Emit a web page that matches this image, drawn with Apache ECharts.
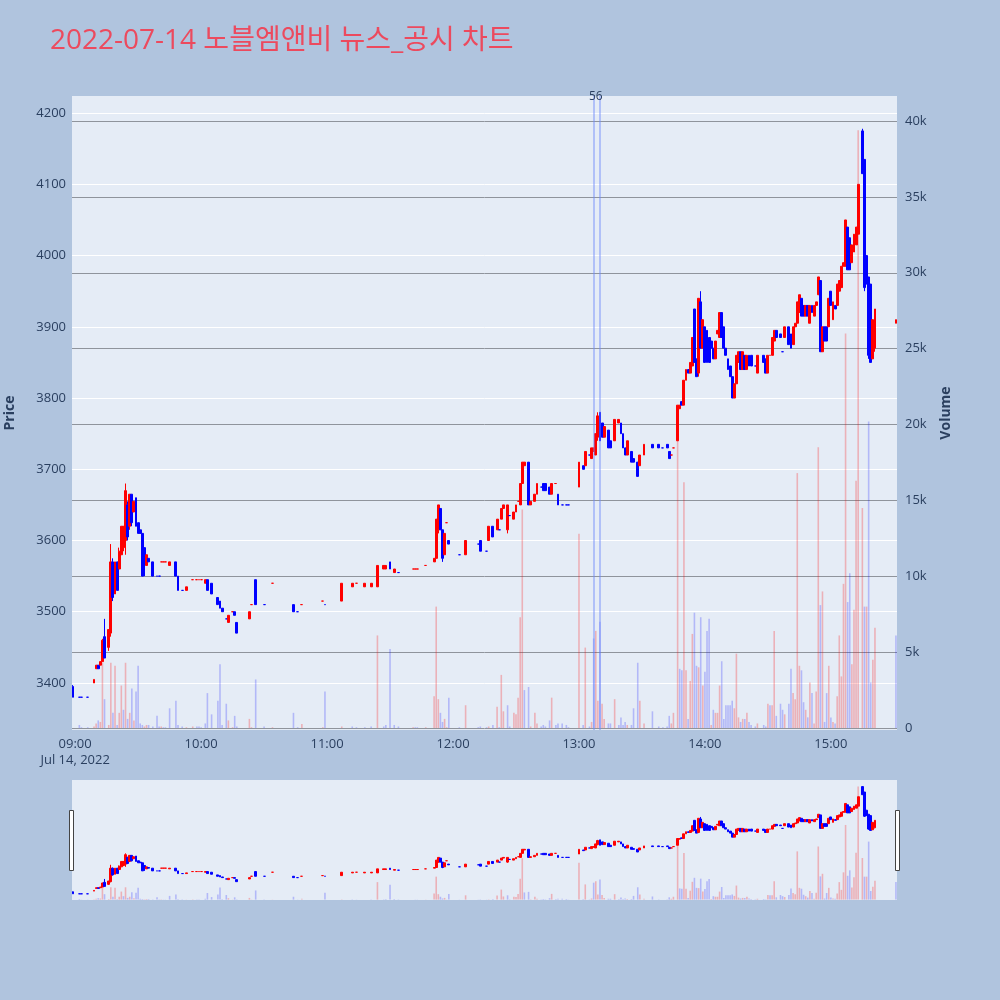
<!DOCTYPE html>
<html><head><meta charset="utf-8">
<script src="https://cdn.jsdelivr.net/npm/echarts@6/dist/echarts.min.js"></script>
<style>html,body{margin:0;padding:0;background:#b0c4de;}#c{width:1000px;height:1000px;}</style>
</head><body><div id="c"></div>
<script>
const times = ["08:59","09:02","09:03","09:06","09:09","09:10","09:11","09:12","09:13","09:14","09:16","09:17","09:18","09:19","09:20","09:21","09:22","09:23","09:24","09:25","09:26","09:27","09:28","09:29","09:30","09:31","09:32","09:33","09:34","09:35","09:37","09:39","09:40","09:41","09:42","09:43","09:45","09:48","09:49","09:51","09:53","09:56","09:58","09:59","10:00","10:02","10:03","10:05","10:08","10:09","10:10","10:12","10:13","10:15","10:16","10:17","10:23","10:24","10:26","10:30","10:34","10:44","10:46","10:48","10:58","10:59","11:07","11:12","11:14","11:18","11:21","11:24","11:27","11:28","11:30","11:32","11:34","11:41","11:42","11:43","11:47","11:51","11:52","11:53","11:54","11:55","11:56","11:57","11:58","12:03","12:06","12:12","12:13","12:16","12:17","12:19","12:21","12:22","12:23","12:24","12:26","12:27","12:29","12:30","12:31","12:32","12:33","12:34","12:36","12:37","12:39","12:40","12:42","12:43","12:44","12:46","12:47","12:49","12:50","12:52","12:54","12:55","13:00","13:02","13:03","13:05","13:06","13:07","13:08","13:09","13:10","13:11","13:12","13:14","13:15","13:17","13:19","13:20","13:21","13:22","13:23","13:25","13:26","13:28","13:29","13:31","13:35","13:38","13:40","13:42","13:43","13:44","13:45","13:47","13:48","13:49","13:50","13:51","13:52","13:53","13:54","13:55","13:56","13:57","13:58","13:59","14:00","14:01","14:02","14:03","14:04","14:05","14:06","14:07","14:08","14:09","14:10","14:11","14:12","14:13","14:14","14:15","14:16","14:17","14:18","14:19","14:20","14:21","14:22","14:24","14:25","14:28","14:29","14:30","14:31","14:32","14:33","14:34","14:36","14:37","14:38","14:40","14:41","14:42","14:43","14:44","14:45","14:46","14:47","14:48","14:49","14:50","14:51","14:52","14:53","14:54","14:55","14:56","14:57","14:58","14:59","15:00","15:01","15:02","15:03","15:04","15:05","15:06","15:07","15:08","15:09","15:10","15:11","15:12","15:13","15:15","15:16","15:17","15:18","15:19","15:20","15:21","15:31"];
const opens = [3395,3380,3380,3380,3400,3420,3425,3425,3430,3465,3450,3470,3570,3525,3570,3560,3580,3590,3600,3650,3620,3665,3640,3660,3625,3615,3610,3590,3565,3575,3570,3550,3550,3570,3570,3570,3565,3570,3550,3530,3530,3545,3545,3545,3545,3540,3545,3540,3520,3515,3505,3490,3485,3500,3500,3485,3490,3510,3545,3510,3540,3510,3500,3510,3515,3510,3515,3535,3540,3535,3535,3535,3560,3560,3570,3555,3555,3560,3560,3560,3565,3570,3575,3615,3645,3615,3580,3625,3600,3580,3580,3595,3600,3585,3600,3620,3615,3615,3630,3645,3615,3635,3630,3640,3655,3650,3680,3705,3710,3650,3655,3665,3675,3680,3680,3675,3665,3680,3665,3650,3650,3650,3675,3705,3705,3720,3715,3725,3720,3745,3780,3765,3745,3755,3740,3740,3765,3765,3750,3730,3720,3725,3715,3710,3705,3720,3735,3735,3730,3735,3725,3720,3730,3740,3785,3795,3790,3825,3840,3835,3845,3925,3855,3835,3935,3870,3900,3895,3885,3880,3870,3855,3890,3885,3920,3900,3870,3855,3845,3830,3800,3820,3850,3865,3840,3860,3840,3860,3860,3845,3835,3860,3855,3835,3860,3860,3880,3895,3890,3865,3885,3900,3890,3875,3900,3905,3920,3940,3930,3915,3930,3905,3930,3915,3930,3945,3965,3865,3900,3900,3900,3950,3910,3930,3930,3950,3955,3985,3985,4040,4025,3990,4005,4015,4030,4175,4135,4000,3970,3960,3855,3870,3905];
const closes = [3380,3380,3380,3380,3405,3425,3420,3430,3460,3435,3475,3570,3520,3570,3530,3585,3620,3620,3670,3605,3665,3625,3655,3620,3610,3610,3550,3570,3580,3570,3550,3550,3550,3570,3570,3570,3570,3550,3530,3530,3535,3545,3545,3545,3545,3545,3530,3525,3510,3505,3500,3490,3495,3500,3495,3470,3500,3510,3510,3510,3540,3500,3500,3510,3515,3510,3540,3540,3540,3540,3540,3565,3565,3565,3560,3560,3555,3560,3560,3560,3565,3575,3630,3650,3615,3575,3610,3625,3595,3580,3600,3595,3585,3585,3620,3605,3630,3615,3645,3650,3650,3635,3640,3650,3655,3680,3710,3710,3650,3655,3665,3680,3675,3670,3670,3665,3680,3680,3650,3650,3650,3650,3710,3700,3725,3720,3730,3730,3750,3775,3740,3745,3760,3730,3730,3770,3770,3750,3730,3720,3740,3710,3710,3690,3720,3735,3730,3730,3730,3730,3715,3720,3730,3790,3790,3790,3825,3840,3835,3850,3885,3850,3830,3940,3870,3910,3850,3850,3850,3870,3855,3880,3895,3920,3885,3870,3860,3840,3830,3800,3820,3860,3865,3840,3865,3840,3860,3845,3845,3845,3860,3850,3835,3860,3860,3885,3895,3885,3885,3865,3900,3875,3870,3900,3905,3935,3945,3915,3915,3930,3915,3930,3920,3930,3935,3970,3865,3900,3880,3880,3940,3930,3935,3925,3960,3965,3985,3990,4050,3980,3980,4015,4030,4040,4100,4115,3955,3960,3860,3850,3910,3925,3910];
const lows = [3380,3380,3380,3380,3400,3420,3420,3425,3430,3435,3445,3465,3515,3525,3530,3560,3580,3585,3580,3600,3615,3620,3640,3620,3610,3610,3550,3550,3565,3570,3550,3550,3550,3570,3570,3570,3565,3550,3530,3530,3530,3545,3545,3545,3545,3540,3530,3525,3510,3505,3500,3490,3485,3500,3495,3470,3490,3510,3510,3510,3540,3500,3500,3510,3515,3510,3515,3535,3540,3535,3535,3535,3560,3560,3560,3555,3555,3560,3560,3560,3565,3570,3575,3610,3615,3570,3580,3625,3595,3580,3580,3595,3585,3585,3600,3605,3615,3615,3630,3645,3610,3635,3630,3640,3655,3650,3680,3705,3650,3650,3655,3665,3675,3670,3670,3665,3665,3680,3650,3650,3650,3650,3675,3700,3705,3720,3715,3725,3720,3740,3740,3745,3745,3730,3730,3740,3765,3750,3730,3720,3720,3710,3710,3690,3705,3720,3730,3730,3730,3730,3715,3720,3730,3740,3785,3790,3790,3825,3835,3835,3845,3850,3830,3830,3870,3870,3850,3850,3850,3870,3855,3855,3890,3885,3885,3870,3860,3840,3830,3800,3800,3820,3850,3840,3840,3840,3840,3845,3845,3845,3835,3850,3835,3835,3860,3860,3880,3885,3885,3865,3885,3875,3870,3875,3900,3905,3920,3915,3915,3915,3915,3905,3920,3915,3930,3945,3865,3865,3880,3880,3900,3930,3910,3925,3930,3950,3955,3985,3985,3980,3980,3990,4005,4015,4030,4115,3950,3960,3855,3850,3855,3865,3905];
const highs = [3397,3380,3380,3380,3405,3425,3425,3430,3462,3490,3475,3595,3575,3570,3570,3590,3620,3620,3680,3655,3665,3665,3655,3660,3625,3615,3610,3590,3580,3575,3570,3550,3550,3570,3570,3570,3570,3570,3550,3530,3535,3545,3545,3545,3545,3545,3545,3540,3520,3515,3505,3490,3495,3500,3500,3485,3500,3510,3545,3510,3540,3510,3500,3510,3515,3510,3540,3540,3540,3540,3540,3565,3565,3565,3570,3560,3555,3560,3560,3560,3565,3575,3630,3650,3645,3615,3610,3625,3600,3580,3600,3595,3600,3585,3620,3620,3630,3615,3645,3650,3650,3635,3640,3650,3655,3680,3710,3710,3710,3655,3665,3680,3675,3680,3680,3675,3680,3680,3665,3650,3650,3650,3710,3705,3725,3720,3730,3730,3750,3780,3780,3765,3760,3755,3740,3770,3770,3765,3750,3730,3740,3725,3715,3710,3720,3735,3735,3735,3730,3735,3725,3720,3730,3790,3790,3795,3825,3840,3840,3850,3885,3925,3855,3940,3950,3910,3900,3895,3885,3880,3870,3880,3895,3920,3920,3900,3870,3855,3845,3830,3820,3860,3865,3865,3865,3860,3860,3860,3860,3845,3860,3860,3855,3860,3860,3885,3895,3895,3890,3865,3900,3900,3890,3900,3905,3935,3945,3940,3930,3930,3930,3930,3930,3930,3935,3970,3965,3900,3900,3900,3940,3950,3935,3930,3960,3965,3985,3990,4050,4040,4025,4015,4030,4040,4100,4178,4135,4000,3970,3960,3910,3925,3910];
const volumes = [0,200,50,50,100,300,500,400,4300,1900,200,4300,1000,4100,200,1000,2800,1200,4300,600,1000,2600,500,2400,4100,300,200,100,200,200,100,800,100,100,50,50,1300,1800,200,100,50,100,100,100,50,300,2300,900,1800,4200,200,1600,500,50,800,100,600,50,3200,100,50,1000,50,260,50,2400,100,100,50,50,100,6100,100,200,5200,200,100,50,50,50,50,2100,8000,1900,1000,400,600,50,2000,50,1500,50,100,50,100,200,1400,50,3500,1100,1500,100,1000,900,2000,7300,14400,2500,2700,100,1000,300,100,200,100,500,2000,200,300,300,200,50,12800,200,5300,100,400,5900,6400,1800,7000,1600,600,300,300,1900,200,700,200,400,200,200,1300,4300,1800,300,1100,100,50,100,800,300,1000,19000,3900,3800,16200,3800,600,3100,6200,7600,4100,4000,7300,2800,3700,6400,7200,200,1200,1000,1000,2800,4400,600,1500,1500,1500,1800,1300,4900,700,400,600,600,1000,400,200,100,300,200,100,1600,1500,1500,6400,800,1600,1200,900,1600,3900,2300,1900,16800,4100,3800,1700,1200,700,3000,2300,300,2400,18500,8100,9000,400,2300,4100,700,400,300,2100,6100,3400,9500,26000,8300,10200,4200,7800,16300,39400,14500,8000,8000,20200,3000,4500,6600,6100];

const UP = '#ff0000', DOWN = '#0000ff';
const VUP = 'rgba(255,0,0,0.25)', VDOWN = 'rgba(0,0,255,0.22)';
const FONT = "'Open Sans', 'Noto Sans CJK KR', sans-serif";
const TXT = '#2a3f5f';

const cats = [];
for (let t = 8*60+59; t <= 15*60+31; t++) {
  cats.push(String(Math.floor(t/60)).padStart(2,'0') + ':' + String(t%60).padStart(2,'0'));
}
const pos = {}; cats.forEach((c,i)=>pos[c]=i);
const candleData = cats.map(()=>'-');
const volData = cats.map(()=>'-');
let prevClose = null, prevDir = -1;
times.forEach((t,i)=>{
  const o = opens[i], c = closes[i];
  let dir;
  if (c > o) dir = 1;
  else if (c < o) dir = -1;
  else if (prevClose !== null && c > prevClose) dir = 1;
  else if (prevClose !== null && c < prevClose) dir = -1;
  else dir = prevDir;
  const col = dir > 0 ? UP : DOWN;
  candleData[pos[t]] = {value:[o, c, lows[i], highs[i]],
    itemStyle:{color:col, color0:col, borderColor:col, borderColor0:col, borderColorDoji:col}};
  const vdir = (prevClose !== null && c > prevClose) ? 1 : -1;
  volData[pos[t]] = {value: volumes[i], itemStyle:{color: vdir > 0 ? VUP : VDOWN}};
  prevClose = c; prevDir = dir;
});

const chart = echarts.init(document.getElementById('c'), null, {renderer:'canvas'});
const volFmt = v => v === 0 ? '0' : (v/1000) + 'k';
chart.setOption({
  animation: false,
  backgroundColor: '#b0c4de',
  title: {text: '2022-07-14 노블엠앤비 뉴스_공시 차트', left: 45, top: 22,
    textStyle: {color: '#ec4a5e', fontSize: 28, fontWeight: 'normal', fontFamily: FONT}},
  grid: [
    {left: 72, top: 96, width: 825, height: 634, show: true, backgroundColor: '#e5ecf6', borderWidth: 0, outerBoundsMode: 'none', containLabel: false},
    {left: 72, top: 780, width: 825, height: 120, show: true, backgroundColor: '#e5ecf6', borderWidth: 0, outerBoundsMode: 'none', containLabel: false}
  ],
  xAxis: [
    {type: 'category', data: cats, gridIndex: 0, boundaryGap: true,
     axisLine: {show: false}, axisTick: {show: false}, splitLine: {show: false},
     axisLabel: {color: TXT, fontSize: 13, fontFamily: FONT, margin: 6, lineHeight: 16,
       interval: (i, v) => v.slice(3) === '00',
       formatter: v => v === '09:00' ? '09:00\nJul 14, 2022' : v}},
    {type: 'category', data: cats, gridIndex: 1, boundaryGap: true,
     axisLine: {show: false}, axisTick: {show: false}, axisLabel: {show: false}, splitLine: {show: false}}
  ],
  yAxis: [
    {type: 'value', gridIndex: 0, position: 'left', min: 3334, max: 4224, splitNumber: 9,
     axisLine: {show: false}, axisTick: {show: false},
     axisLabel: {color: TXT, fontSize: 13, fontFamily: FONT, margin: 6, showMinLabel: false, showMaxLabel: false,
       formatter: v => String(v)},
     splitLine: {show: true, showMinLine: false, showMaxLine: false, lineStyle: {color: '#ffffff', width: 1}},
     name: 'Price', nameLocation: 'middle', nameGap: 55,
     nameTextStyle: {color: TXT, fontSize: 14, fontWeight: 'bold', fontFamily: FONT}},
    {type: 'value', gridIndex: 0, position: 'right', min: -132, max: 41650, splitNumber: 8,
     axisLine: {show: false}, axisTick: {show: false},
     axisLabel: {color: TXT, fontSize: 13, fontFamily: FONT, margin: 8, formatter: volFmt, showMinLabel: false, showMaxLabel: false},
     splitLine: {show: true, showMinLine: false, showMaxLine: false, lineStyle: {color: '#8f949c', width: 1}},
     name: 'Volume', nameLocation: 'middle', nameGap: 42,
     nameTextStyle: {color: TXT, fontSize: 14, fontWeight: 'bold', fontFamily: FONT}},
    {type: 'value', gridIndex: 1, min: 3334, max: 4224, show: false, splitLine: {show: false}},
    {type: 'value', gridIndex: 1, min: -132, max: 41650, show: false, splitLine: {show: false}}
  ],
  series: [
    {type: 'bar', name: 'vol', xAxisIndex: 0, yAxisIndex: 1, data: volData, barWidth: 1.6, z: 1,
     markLine: {silent: true, symbol: ['none','none'], label: {show: false},
       lineStyle: {color: 'rgba(110,140,250,0.45)', width: 2, type: 'solid'},
       data: [{xAxis: '13:07'}, {xAxis: '13:10'}]},
     markPoint: {symbol: 'circle', symbolSize: 1, itemStyle: {color: 'rgba(0,0,0,0)'},
       label: {show: true, formatter: '56', position: 'inside', color: TXT, fontSize: 12, fontFamily: FONT, offset: [0, 1]},
       data: [{coord: ['13:08', 41650]}]}},
    {type: 'candlestick', name: 'price', xAxisIndex: 0, yAxisIndex: 0, data: candleData, barWidth: 2.4, z: 3,
     itemStyle: {borderWidth: 1}},
    {type: 'bar', name: 'vol2', xAxisIndex: 1, yAxisIndex: 3, data: volData, barWidth: 1.6, z: 1},
    {type: 'candlestick', name: 'price2', xAxisIndex: 1, yAxisIndex: 2, data: candleData, barWidth: 2.4, z: 3,
     itemStyle: {borderWidth: 1}}
  ],
  graphic: [
    {type: 'rect', shape: {x: 69.5, y: 810.5, width: 4, height: 60}, style: {fill: '#ffffff', stroke: '#444444', lineWidth: 1}, z: 100},
    {type: 'rect', shape: {x: 895.5, y: 810.5, width: 4, height: 60}, style: {fill: '#ffffff', stroke: '#444444', lineWidth: 1}, z: 100}
  ]
});
</script>
</body></html>
